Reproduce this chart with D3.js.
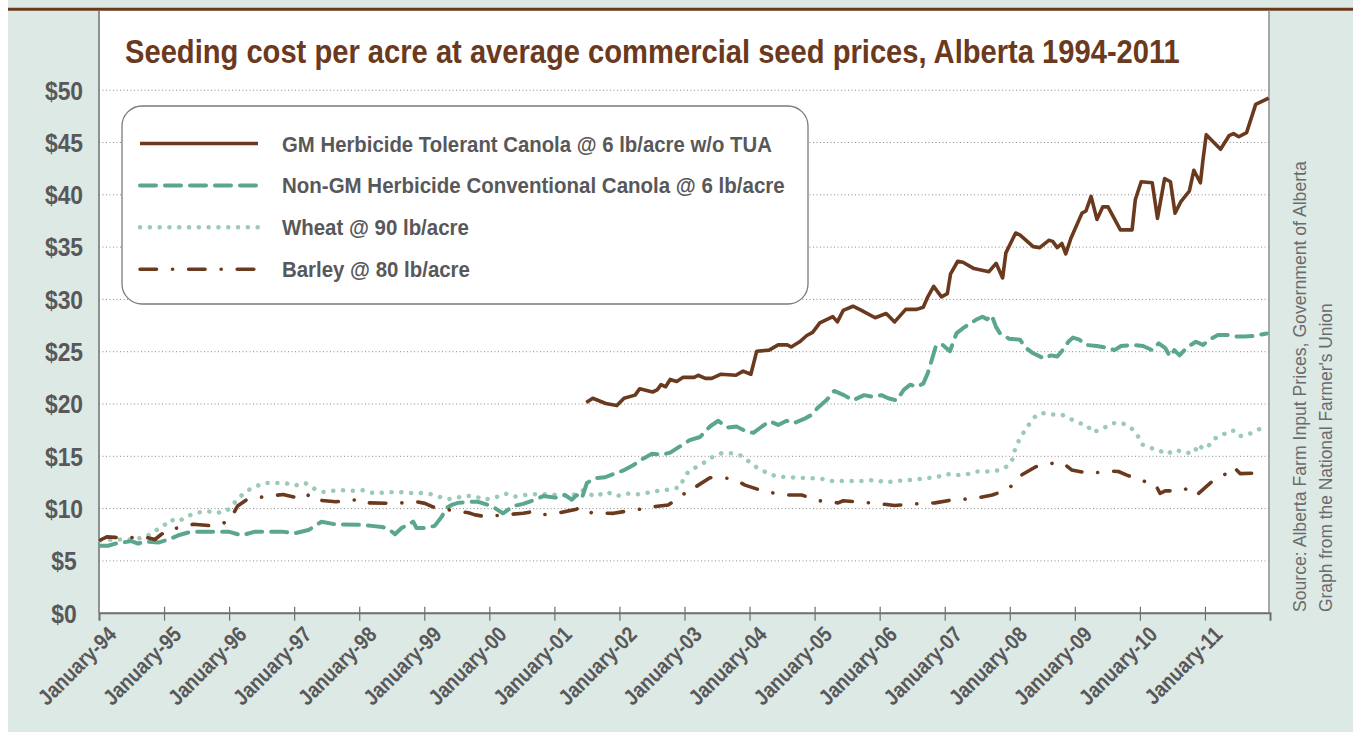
<!DOCTYPE html>
<html>
<head>
<meta charset="utf-8">
<script src="https://cdn.jsdelivr.net/npm/d3@7"></script>
<style>
  html, body { margin: 0; padding: 0; background: #ffffff; }
  svg { display: block; }
</style>
</head>
<body>
<div id="canvas"></div>
<script>
"use strict";

// Data (decimal year, $ per acre)

let gmCanola = [
  [2001.49, 20.1], [2001.59, 20.5], [2001.79, 20.0], [2001.96, 19.8], [2002.07, 20.5],
  [2002.24, 20.8], [2002.31, 21.4], [2002.51, 21.1], [2002.58, 21.3], [2002.64, 21.8],
  [2002.71, 21.6], [2002.78, 22.3], [2002.88, 22.1], [2002.98, 22.5], [2003.15, 22.5],
  [2003.21, 22.7], [2003.32, 22.4], [2003.42, 22.4], [2003.56, 22.8], [2003.79, 22.7],
  [2003.90, 23.1], [2004.02, 22.8], [2004.11, 25.0], [2004.30, 25.1], [2004.44, 25.6],
  [2004.58, 25.6], [2004.64, 25.4], [2004.77, 25.9], [2004.88, 26.5], [2004.97, 26.8],
  [2005.08, 27.7], [2005.28, 28.3], [2005.35, 27.8], [2005.44, 28.9], [2005.59, 29.3],
  [2005.72, 28.9], [2005.93, 28.2], [2006.10, 28.6], [2006.23, 27.8], [2006.40, 29.0],
  [2006.57, 29.0], [2006.67, 29.2], [2006.74, 30.2], [2006.83, 31.2], [2006.95, 30.2],
  [2007.04, 30.5], [2007.09, 32.4], [2007.20, 33.6], [2007.28, 33.5], [2007.45, 32.9],
  [2007.68, 32.6], [2007.79, 33.4], [2007.89, 32.0], [2007.94, 34.4], [2008.09, 36.3],
  [2008.16, 36.1], [2008.36, 35.0], [2008.46, 34.9], [2008.60, 35.6], [2008.66, 35.5],
  [2008.73, 34.9], [2008.80, 35.3], [2008.86, 34.3], [2008.94, 35.8], [2009.11, 38.2],
  [2009.17, 38.4], [2009.25, 39.8], [2009.34, 37.6], [2009.43, 38.8], [2009.51, 38.8],
  [2009.70, 36.6], [2009.88, 36.6], [2009.93, 39.5], [2010.02, 41.2], [2010.19, 41.1],
  [2010.27, 37.7], [2010.38, 41.5], [2010.47, 41.2], [2010.54, 38.2], [2010.63, 39.3],
  [2010.76, 40.3], [2010.83, 42.3], [2010.93, 41.1], [2010.97, 43.3], [2011.02, 45.7],
  [2011.24, 44.3], [2011.37, 45.6], [2011.44, 45.8], [2011.52, 45.5], [2011.64, 45.9],
  [2011.78, 48.6], [2011.98, 49.2]
];

let conventionalCanola = [
  [1994.02, 6.4], [1994.14, 6.4], [1994.25, 6.6], [1994.35, 6.7], [1994.50, 6.85],
  [1994.60, 6.6], [1994.71, 6.8], [1994.91, 6.7], [1995.07, 7.0], [1995.22, 7.4],
  [1995.42, 7.75], [1995.68, 7.75], [1995.99, 7.75], [1996.19, 7.4], [1996.40, 7.75],
  [1996.81, 7.75], [1997.01, 7.6], [1997.22, 7.9], [1997.42, 8.7], [1997.63, 8.45],
  [1998.04, 8.4], [1998.19, 8.3], [1998.35, 8.2], [1998.45, 8.0], [1998.55, 7.5],
  [1998.65, 8.1], [1998.75, 8.4], [1998.83, 8.7], [1998.88, 8.1], [1999.01, 8.1],
  [1999.16, 8.3], [1999.27, 9.2], [1999.34, 10.0], [1999.42, 10.3], [1999.52, 10.5],
  [1999.68, 10.6], [1999.83, 10.6], [1999.98, 10.3], [2000.06, 10.1], [2000.21, 9.5],
  [2000.37, 10.2], [2000.52, 10.4], [2000.70, 10.8], [2000.83, 11.15], [2001.01, 11.0],
  [2001.16, 11.25], [2001.27, 10.8], [2001.34, 11.25], [2001.42, 10.9], [2001.50, 12.4],
  [2001.62, 12.85], [2001.78, 12.95], [2001.91, 13.26], [2002.06, 13.6], [2002.21, 14.1],
  [2002.37, 14.75], [2002.50, 15.2], [2002.65, 15.1], [2002.78, 15.3], [2002.93, 15.9],
  [2003.08, 16.5], [2003.24, 16.8], [2003.39, 17.8], [2003.52, 18.35], [2003.65, 17.7],
  [2003.80, 17.8], [2003.96, 17.3], [2004.06, 17.2], [2004.19, 17.8], [2004.31, 18.3],
  [2004.44, 17.95], [2004.57, 18.35], [2004.67, 18.1], [2004.83, 18.5], [2004.95, 18.9],
  [2005.05, 19.6], [2005.18, 20.3], [2005.30, 21.2], [2005.45, 20.8], [2005.59, 20.3],
  [2005.76, 20.8], [2005.89, 20.65], [2006.03, 20.8], [2006.13, 20.5], [2006.26, 20.3],
  [2006.37, 21.3], [2006.47, 21.8], [2006.57, 21.6], [2006.67, 21.9], [2006.74, 22.9],
  [2006.87, 25.6], [2006.97, 25.6], [2007.08, 25.0], [2007.18, 26.7], [2007.28, 27.2],
  [2007.48, 28.0], [2007.58, 28.3], [2007.65, 28.05], [2007.72, 28.45], [2007.79, 27.3],
  [2007.85, 26.7], [2007.99, 26.2], [2008.16, 26.1], [2008.23, 25.4], [2008.36, 24.8],
  [2008.53, 24.3], [2008.63, 24.6], [2008.73, 24.5], [2008.80, 25.0], [2008.90, 25.9],
  [2008.97, 26.3], [2009.07, 26.1], [2009.17, 25.6], [2009.34, 25.5], [2009.51, 25.3],
  [2009.61, 25.1], [2009.71, 25.5], [2009.88, 25.6], [2010.05, 25.5], [2010.19, 25.1],
  [2010.29, 25.75], [2010.39, 25.3], [2010.46, 24.5], [2010.53, 25.1], [2010.61, 24.6],
  [2010.73, 25.4], [2010.86, 25.9], [2010.97, 25.6], [2011.07, 26.1], [2011.20, 26.55],
  [2011.34, 26.55], [2011.47, 26.4], [2011.61, 26.4], [2011.74, 26.45], [2011.95, 26.7]
];

let wheat = [
  [1994.02, 6.9], [1994.25, 7.0], [1994.50, 7.0], [1994.71, 7.2], [1995.01, 8.4],
  [1995.09, 8.9], [1995.22, 8.7], [1995.35, 9.2], [1995.50, 9.55], [1995.66, 9.7],
  [1995.81, 9.55], [1995.96, 9.7], [1996.06, 10.35], [1996.17, 11.1], [1996.29, 11.7],
  [1996.42, 12.1], [1996.55, 12.4], [1996.70, 12.4], [1996.86, 12.4], [1997.01, 12.15],
  [1997.17, 12.4], [1997.29, 11.9], [1997.45, 11.55], [1997.60, 11.65], [1997.76, 11.7],
  [1997.91, 11.65], [1998.06, 11.7], [1998.24, 11.4], [1998.42, 11.5], [1998.58, 11.55],
  [1998.75, 11.45], [1998.93, 11.45], [1999.09, 11.35], [1999.22, 11.1], [1999.37, 10.85],
  [1999.50, 11.0], [1999.63, 11.15], [1999.78, 11.15], [1999.91, 10.8], [2000.09, 11.0],
  [2000.24, 11.4], [2000.39, 11.1], [2000.55, 11.25], [2000.73, 11.35], [2001.14, 11.25],
  [2001.29, 11.25], [2001.44, 11.7], [2001.62, 11.1], [2001.80, 11.55], [2001.96, 11.15],
  [2002.11, 11.4], [2002.26, 11.3], [2002.42, 11.45], [2002.60, 11.65], [2002.78, 11.8],
  [2002.93, 12.0], [2002.98, 12.7], [2003.06, 13.5], [2003.16, 13.85], [2003.29, 14.3],
  [2003.42, 14.85], [2003.57, 15.25], [2003.73, 15.25], [2003.88, 15.0], [2004.01, 14.35],
  [2004.13, 13.8], [2004.26, 13.4], [2004.42, 13.0], [2004.60, 12.95], [2004.77, 12.9],
  [2004.95, 12.85], [2005.11, 12.8], [2005.26, 12.6], [2005.44, 12.6], [2005.59, 12.6],
  [2005.76, 12.6], [2005.93, 12.7], [2006.10, 12.45], [2006.25, 12.6], [2006.40, 12.65],
  [2006.57, 12.75], [2006.72, 12.85], [2006.89, 13.0], [2007.04, 13.25], [2007.19, 13.15],
  [2007.35, 13.25], [2007.50, 13.5], [2007.65, 13.5], [2007.82, 13.6], [2007.98, 14.05],
  [2008.05, 14.75], [2008.08, 15.6], [2008.14, 16.45], [2008.21, 17.2], [2008.29, 17.95],
  [2008.37, 18.65], [2008.48, 19.1], [2008.64, 18.95], [2008.81, 18.9], [2008.94, 18.5],
  [2009.06, 18.15], [2009.19, 17.9], [2009.27, 17.25], [2009.42, 17.55], [2009.56, 18.1],
  [2009.72, 18.15], [2009.86, 17.7], [2009.96, 17.0], [2010.03, 16.1], [2010.14, 15.8],
  [2010.28, 15.55], [2010.42, 15.15], [2010.52, 15.55], [2010.62, 15.45], [2010.69, 15.3],
  [2010.83, 15.25], [2010.90, 16.1], [2010.97, 15.65], [2011.05, 15.9], [2011.13, 16.6],
  [2011.25, 16.9], [2011.37, 17.4], [2011.47, 17.4], [2011.55, 16.9], [2011.71, 17.15],
  [2011.85, 17.6]
];

let barley = [
  [1994.02, 6.95], [1994.12, 7.25], [1994.25, 7.2], [1994.39, 7.1], [1994.53, 7.2],
  [1994.66, 7.3], [1994.86, 7.0], [1994.96, 7.5], [1995.09, 8.05], [1995.17, 8.05],
  [1995.45, 8.45], [1995.76, 8.3], [1995.89, 8.5], [1996.01, 8.85], [1996.13, 10.2],
  [1996.27, 10.8], [1996.45, 11.0], [1996.55, 11.1], [1996.83, 11.3], [1997.14, 10.85],
  [1997.23, 11.3], [1997.32, 10.8], [1997.64, 10.6], [1997.96, 10.8], [1998.04, 10.8],
  [1998.11, 10.5], [1998.55, 10.45], [1998.88, 10.6], [1999.01, 10.45], [1999.14, 10.1],
  [1999.41, 9.8], [1999.68, 9.55], [1999.78, 9.35], [1999.93, 9.2], [2000.52, 9.5],
  [2000.65, 9.65], [2000.80, 9.35], [2001.07, 9.55], [2001.34, 9.9], [2001.42, 10.1],
  [2001.57, 9.55], [2001.91, 9.5], [2002.19, 9.8], [2002.32, 9.9], [2002.47, 10.1],
  [2002.75, 10.3], [2002.98, 11.25], [2003.06, 11.95], [2003.19, 12.1], [2003.39, 12.9],
  [2003.67, 12.85], [2003.78, 12.7], [2003.93, 12.2], [2004.20, 11.65], [2004.52, 11.25],
  [2004.80, 11.25], [2005.08, 10.7], [2005.36, 10.5], [2005.44, 10.7], [2005.65, 10.6],
  [2005.95, 10.45], [2006.23, 10.25], [2006.54, 10.4], [2006.85, 10.5], [2007.13, 10.8],
  [2007.44, 10.9], [2007.73, 11.25], [2007.98, 11.8], [2008.15, 13.05], [2008.40, 13.95],
  [2008.67, 14.3], [2008.82, 14.3], [2008.95, 13.65], [2009.23, 13.3], [2009.51, 13.55],
  [2009.67, 13.5], [2009.80, 13.15], [2010.04, 12.6], [2010.23, 12.35], [2010.31, 11.4],
  [2010.39, 11.65], [2010.59, 11.65], [2010.68, 11.7], [2010.75, 12.05], [2010.90, 11.4],
  [2011.12, 12.6], [2011.33, 13.3], [2011.44, 13.95], [2011.54, 13.3], [2011.79, 13.35],
  [2011.94, 13.35]
];

let seriesNames = [
  "GM Herbicide Tolerant Canola @ 6 lb/acre w/o TUA",
  "Non-GM Herbicide Conventional Canola @ 6 lb/acre",
  "Wheat @ 90 lb/acre",
  "Barley @ 80 lb/acre"
];

let yTickValues = [0, 5, 10, 15, 20, 25, 30, 35, 40, 45, 50];
let xTickYears = [1994, 1995, 1996, 1997, 1998, 1999, 2000, 2001, 2002,
                  2003, 2004, 2005, 2006, 2007, 2008, 2009, 2010, 2011];

let titleText = "Seeding cost per acre at average commercial seed prices, Alberta 1994-2011";
let sourceLines = [
  "Source: Alberta Farm Input Prices, Government of Alberta",
  "Graph from the National Farmer's Union"
];

/*
   Setup
*/

let svgWidth = 1353;
let svgHeight = 732;

let plotLeft = 99;
let plotRight = 1270;
let plotTop = 10.5;
let plotBottom = 612.7;

let brown = "#6b3a1e";
let teal = "#5ba68e";
let wheatColor = "#9ccab7";
let textGray = "#58585a";
let bgColor = "#dde9e4";

let sans = "'Liberation Sans', Arial, Helvetica, sans-serif";

let svg = d3.select("#canvas")
  .append("svg")
  .attr("width", svgWidth)
  .attr("height", svgHeight);

// squeeze a text horizontally to a given width (the original uses a condensed face)
function squeeze(sel, x, y, w, rot) {
  let natural = sel.node().getComputedTextLength();
  let k = w / natural;
  sel.attr("x", 0).attr("y", 0)
    .attr("transform", `translate(${x}, ${y})` + (rot ? ` rotate(${rot})` : "") + ` scale(${k}, 1)`);
}

// background panels
svg.append("rect")
  .attr("x", 8).attr("y", 0)
  .attr("width", svgWidth - 8).attr("height", svgHeight)
  .attr("fill", bgColor);

svg.append("rect")
  .attr("x", plotLeft).attr("y", plotTop)
  .attr("width", plotRight - plotLeft).attr("height", plotBottom - plotTop)
  .attr("fill", "#ffffff");

svg.append("line")
  .attr("x1", 8).attr("x2", svgWidth)
  .attr("y1", 9.2).attr("y2", 9.2)
  .attr("stroke", brown)
  .attr("stroke-width", 3);

// Scales

let xScale = d3.scaleLinear()
  .domain([1994, 2012])
  .range([plotLeft, plotRight]);

let yScale = d3.scaleLinear()
  .domain([0, 50])
  .range([plotBottom, 89.7]);

// Grid + y labels

let yAxis = svg.append("g")
  .attr("transform", `translate(${plotLeft}, 0)`)
  .call(d3.axisLeft(yScale)
    .tickValues(yTickValues)
    .tickSize(-(plotRight - plotLeft))
    .tickFormat(d => "$" + d));

yAxis.select(".domain").remove();
yAxis.selectAll(".tick line")
  .attr("stroke", "#8a8a8a")
  .attr("stroke-width", 1)
  .attr("stroke-dasharray", "1,2.5");
yAxis.selectAll(".tick text")
  .attr("x", 0)
  .attr("dy", "0.36em")
  .attr("transform", "translate(-35, 0) scale(0.88, 1)")
  .attr("text-anchor", "middle")
  .attr("fill", textGray)
  .attr("font-family", sans)
  .attr("font-weight", "bold")
  .attr("font-size", 26);

// Axis frame
svg.append("line")
  .attr("x1", plotLeft).attr("x2", plotLeft)
  .attr("y1", plotTop).attr("y2", plotBottom)
  .attr("stroke", "#6f6f6f").attr("stroke-width", 1.5);

svg.append("line")
  .attr("x1", plotRight - 1).attr("x2", plotRight - 1)
  .attr("y1", plotTop).attr("y2", plotBottom)
  .attr("stroke", "#8a8a8a").attr("stroke-width", 1.5);

let xAxis = svg.append("g")
  .attr("transform", `translate(0, ${plotBottom})`)
  .call(d3.axisBottom(xScale)
    .tickValues(xTickYears)
    .tickSize(8)
    .tickFormat(d => "January-" + String(d).slice(2)));

xAxis.select(".domain")
  .attr("stroke", "#6f6f6f")
  .attr("stroke-width", 2);
xAxis.selectAll(".tick line")
  .attr("y1", -6)
  .attr("stroke", "#6f6f6f")
  .attr("stroke-width", 1.2)
  .attr("opacity", d => d === 1994 ? 0 : 1);
xAxis.selectAll(".tick text")
  .attr("x", 0)
  .attr("y", 0)
  .attr("dy", "0.72em")
  .attr("transform", "translate(7, 12) rotate(-45) scale(0.86, 1)")
  .attr("text-anchor", "end")
  .attr("fill", textGray)
  .attr("font-family", sans)
  .attr("font-weight", "bold")
  .attr("font-size", 22);

// Lines

let line = d3.line()
  .x(d => xScale(d[0]))
  .y(d => yScale(d[1]));

let styles = [
  { data: wheat, color: wheatColor, width: 4.5, dash: "0.1,9.7", cap: "round" },
  { data: conventionalCanola, color: teal, width: 4, dash: "16,9", cap: "round" },
  { data: barley, color: brown, width: 3.6, dash: "16.5,16,0.1,16", cap: "round" },
  { data: gmCanola, color: brown, width: 3.6, dash: null, cap: "butt" }
];

styles.forEach(s => {
  svg.append("path")
    .datum(s.data)
    .attr("d", line)
    .attr("fill", "none")
    .attr("stroke", s.color)
    .attr("stroke-width", s.width)
    .attr("stroke-linejoin", "round")
    .attr("stroke-linecap", s.cap)
    .attr("stroke-dasharray", s.dash);
});

// Legend

let legendX = 122;
let legendY = 106;

svg.append("rect")
  .attr("x", legendX).attr("y", legendY)
  .attr("width", 686).attr("height", 198)
  .attr("rx", 20).attr("ry", 20)
  .attr("fill", "#ffffff")
  .attr("stroke", "#7a7a7a")
  .attr("stroke-width", 1.3);

let legendKey = [
  { color: brown, width: 3.6, dash: null, cap: "butt", w: 490 },
  { color: teal, width: 4, dash: "16,9", cap: "round", w: 503 },
  { color: wheatColor, width: 4.5, dash: "0.1,9.7", cap: "round", w: 187 },
  { color: brown, width: 3.6, dash: "16.5,16,0.1,16", cap: "round", w: 188 }
];

legendKey.forEach((d, i) => {
  let cy = legendY + 37.5 + i * 41.9;
  svg.append("line")
    .attr("x1", legendX + 18).attr("x2", legendX + 136)
    .attr("y1", cy).attr("y2", cy)
    .attr("stroke", d.color)
    .attr("stroke-width", d.width)
    .attr("stroke-linecap", d.cap)
    .attr("stroke-dasharray", d.dash);

  svg.append("text")
    .attr("fill", textGray)
    .attr("font-family", sans)
    .attr("font-weight", "bold")
    .attr("font-size", 22)
    .text(seriesNames[i])
    .call(squeeze, legendX + 160, cy + 8, d.w);
});

// Title
svg.append("text")
  .attr("fill", brown)
  .attr("font-family", sans)
  .attr("font-weight", "bold")
  .attr("font-size", 32.5)
  .text(titleText)
  .call(squeeze, 125, 63, 1055);

// Source note
let sourceWidths = [451, 309];
sourceLines.forEach((s, i) => {
  svg.append("text")
    .attr("fill", "#6a6b6d")
    .attr("font-family", sans)
    .attr("font-size", 18)
    .text(s)
    .call(squeeze, 1306 + i * 26, 612, sourceWidths[i], -90);
});
</script>
</body>
</html>
